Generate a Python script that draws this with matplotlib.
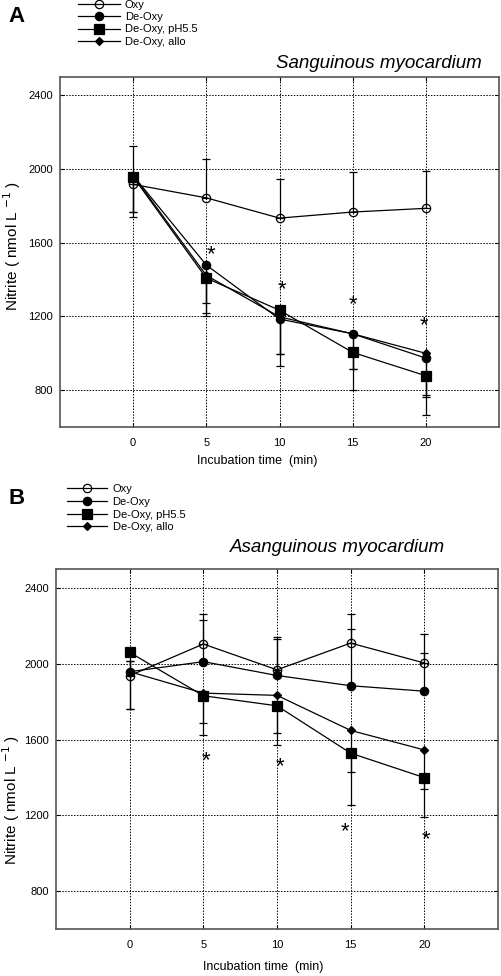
import numpy as np
import matplotlib
matplotlib.use("Agg")
import matplotlib.pyplot as plt

plt.rcParams['font.family'] = ['Liberation Sans', 'DejaVu Sans']

# tiempos de incubacion (min)
time = [0, 5, 10, 15, 20]
series_names = ["Oxy", "De-Oxy", "De-Oxy, pH5.5", "De-Oxy, allo"]
x_ticks = [0, 5, 10, 15, 20]
y_ticks = [800, 1200, 1600, 2000, 2400]

# panel A - sanguinous myocardium
a_oxy = [1917, 1844, 1734, 1767, 1787]
a_oxy_up = [208, 209, 214, 215, 204]
a_deoxy = [1965, 1479, 1186, 1106, 974]
a_deoxy_lo = [224, 277, 255, 306, 309]
a_ph = [1958, 1408, 1234, 1005, 878]
a_ph_lo = [190, 191, 238, 88, 105]
a_allo = [1965, 1423, 1198, 1106, 1000]
a_allo_lo = [198, 149, 202, 189, 236]
a_star_x = [5.3, 10.2, 15.0, 19.9]
a_star_y = [1535, 1345, 1265, 1150]

# panel B - asanguinous myocardium
b_oxy = [1937, 2104, 1968, 2109, 2004]
b_oxy_up = [75, 159, 173, 155, 155]
b_deoxy = [1958, 2011, 1938, 1884, 1855]
b_deoxy_up = [55, 222, 192, 299, 201]
b_ph = [2060, 1831, 1778, 1528, 1399]
b_ph_lo = [300, 206, 208, 273, 210]
b_allo = [1958, 1845, 1833, 1648, 1545]
b_allo_lo = [198, 160, 200, 217, 206]
b_star_x = [5.2, 10.2, 14.6, 20.1]
b_star_y = [1488, 1456, 1111, 1073]

# circulo abierto sin relleno (la linea pasa por dentro)
styles = [
    dict(marker='o', mfc='none', ms=6),
    dict(marker='o', mfc='black', ms=6),
    dict(marker='s', mfc='black', ms=6.5),
    dict(marker='D', mfc='black', ms=4.5),
]


def panel(ax, vals, errs, star_x, star_y):
    handles = []
    for v, (lo, up), st in zip(vals, errs, styles):
        ax.errorbar(time, v, yerr=[lo, up], fmt='none', ecolor='black',
                    elinewidth=0.9, capsize=3, capthick=0.9, zorder=2)
        h, = ax.plot(time, v, color='black', lw=0.9, mec='black', mew=0.9,
                     zorder=3, **st)
        handles.append(h)
    # asteriscos de significancia
    for sx, sy in zip(star_x, star_y):
        ax.text(sx, sy, "*", fontsize=16, ha='center', va='center')
    ax.set_xlim(-5, 25)
    ax.set_ylim(600, 2500)
    ax.set_xticks(x_ticks)
    ax.set_yticks(y_ticks)
    ax.tick_params(direction='in', top=True, right=True, length=3,
                   width=0.8, labelsize=8)
    ax.tick_params(axis='x', pad=8)
    ax.tick_params(axis='y', pad=5)
    ax.grid(True, color='black', lw=0.7, linestyle=(0, (1.5, 1.5)))
    for s in ax.spines.values():
        s.set_color('#555555')
        s.set_linewidth(1.2)
    ax.set_xlabel("Incubation time  (min)", fontsize=9)
    ax.set_ylabel(r"Nitrite ( nmol L $^{-1}$ )", fontsize=11)
    return handles


W, H = 502, 976
fig = plt.figure(figsize=(W / 100, H / 100), dpi=100)

axA = fig.add_axes([60 / W, 1 - 427 / H, 439 / W, 350 / H])
hA = panel(axA, [a_oxy, a_deoxy, a_ph, a_allo],
           [([0] * 5, a_oxy_up), (a_deoxy_lo, [0] * 5),
            (a_ph_lo, [0] * 5), (a_allo_lo, [0] * 5)],
           a_star_x, a_star_y)
axA.xaxis.set_label_coords(0.449, -0.08)
axA.yaxis.set_label_coords(-0.085, 0.517)

axB = fig.add_axes([56 / W, 1 - 929 / H, 442 / W, 360 / H])
hB = panel(axB, [b_oxy, b_deoxy, b_ph, b_allo],
           [([0] * 5, b_oxy_up), ([0] * 5, b_deoxy_up),
            (b_ph_lo, [0] * 5), (b_allo_lo, [0] * 5)],
           b_star_x, b_star_y)
axB.xaxis.set_label_coords(0.468, -0.089)
axB.yaxis.set_label_coords(-0.076, 0.358)

# leyendas
fig.legend(hA, series_names, loc='upper left', bbox_to_anchor=(78 / W, 1 - 0 / H),
           frameon=False, fontsize=8, handlelength=3.8, handletextpad=0.4,
           labelspacing=0.2, borderpad=0, borderaxespad=0)
fig.legend(hB, series_names, loc='upper left', bbox_to_anchor=(67 / W, 1 - 484 / H),
           frameon=False, fontsize=8, handlelength=3.6, handletextpad=0.5,
           labelspacing=0.25, borderpad=0, borderaxespad=0)

# titulos y letras de panel
fig.text(482 / W, 1 - 63 / H, "Sanguinous myocardium", fontsize=13.5,
         style='italic', ha='right', va='center')
fig.text(445 / W, 1 - 547 / H, "Asanguinous myocardium", fontsize=13.5,
         style='italic', ha='right', va='center')
fig.text(8 / W, 1 - 16 / H, "A", fontsize=16, weight='bold', ha='left', va='center')
fig.text(8 / W, 1 - 498 / H, "B", fontsize=16, weight='bold', ha='left', va='center')

fig.savefig("out.png", dpi=100)
